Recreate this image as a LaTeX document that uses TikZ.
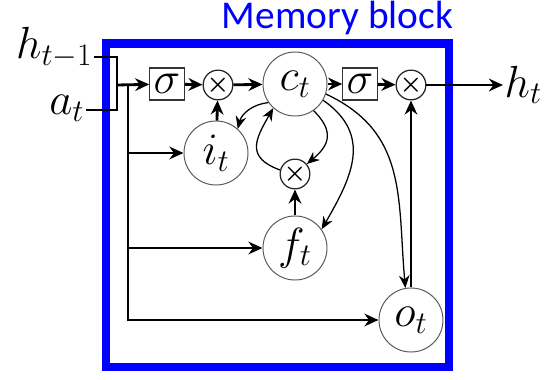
\RequirePackage{fix-cm}
\documentclass[tikz,border=0pt]{standalone}
\usepackage{amsmath, amssymb, bm}
\usepackage{fontspec}
\newfontfamily\labelfont{Carlito}
\usetikzlibrary{arrows.meta, calc, positioning}

\tikzset{
    gate/.style={circle, draw=black!65, line width=0.7pt, minimum size=1.6cm, inner sep=0pt,
        font=\fontsize{32}{36}\selectfont},
    mult/.style={circle, draw=black!85, line width=0.9pt, minimum size=0.68cm, inner sep=0pt,
        font=\fontsize{18}{18}\selectfont},
    sigbox/.style={rectangle, draw=black!80, line width=0.8pt, minimum width=0.86cm, minimum height=0.8cm,
        inner sep=0pt, font=\fontsize{32}{36}\selectfont},
    io/.style={inner sep=1pt, font=\fontsize{32}{36}\selectfont},
    conn/.style={line width=2pt, -{Stealth[length=10pt, width=9pt]}},
    bar/.style={line width=2pt},
    peep/.style={line width=0.9pt, -{Stealth[length=9pt, width=7.5pt]}},
}

\begin{document}
\begin{tikzpicture}[x=0.025cm, y=-0.025cm]
    \useasboundingbox (0,0) rectangle (547,380);
    % memory block
    \draw[blue, line width=5.8pt] (106,43.5) rectangle (449,367);
    \node[blue, inner sep=0pt, anchor=base, font=\labelfont\fontsize{28}{32}\selectfont] (title) at (337.5,29) {Memory block};

    % gates and cell
    \node[sigbox] (sig1) at (167,84) {$\sigma$};
    \node[mult] (x1) at (218,85) {$\bm{\times}$};
    \node[gate] (ct) at (295,84) {$c_t$};
    \node[sigbox] (sig2) at (360,84) {$\sigma$};
    \node[mult] (x2) at (411,85) {$\bm{\times}$};
    \node[gate] (it) at (216,153) {$i_t$};
    \node[mult] (x3) at (295,174) {$\bm{\times}$};
    \node[gate] (ft) at (295,248) {$f_t$};
    \node[gate] (ot) at (411,320) {$o_t$};

    % inputs and output
    \node[io, anchor=east] (hin) at (94,48) {$h_{t-1}$};
    \node[io, anchor=east] (ain) at (86,108) {$a_t$};
    \node[io, anchor=west] (hout) at (503,85) {$h_t$};
    \coordinate (hj) at (117,57);
    \coordinate (aj) at (117,110);
    \coordinate (split) at (117,85);
    \coordinate (trunk) at (128,85);

    \draw[bar] (hin.east |- hj) -- (hj) -- (aj) -- (ain.east |- aj);
    \draw[conn] (split) -- (sig1);
    \draw[conn] (trunk) |- (ot);
    \draw[conn] (trunk |- it) -- (it);
    \draw[conn] (trunk |- ft) -- (ft);

    % main line
    \draw[conn] (sig1) -- (x1);
    \draw[conn] (x1) -- (ct);
    \draw[conn] (ct) -- (sig2);
    \draw[conn] (sig2) -- (x2);
    \draw[conn] (x2) -- (hout);
    \draw[conn] (it) -- (x1);
    \draw[conn] (ft) -- (x3);
    \draw[conn] (ot) -- (x2);

    % peepholes and recurrence
    \draw[peep] (ct.215) to[bend right=35] (it.48);
    \draw[peep] (x3.165) to[out=160, in=240, looseness=1.5] (ct.228);
    \draw[peep] (ct.305) to[out=-45, in=40, looseness=1.4] (x3.40);
    \draw[peep] (ct.330) to[out=-35, in=60, looseness=1.2] (ft.35);
    \draw[peep] (ct.342) to[out=-25, in=95, looseness=1.1] (ot.100);
\end{tikzpicture}
\end{document}
